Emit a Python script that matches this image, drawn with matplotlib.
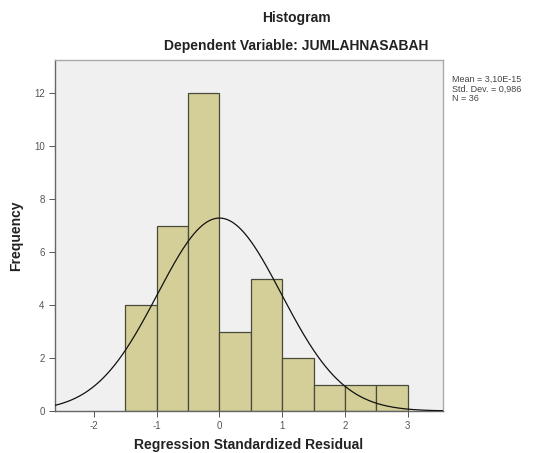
import numpy as np
import matplotlib
matplotlib.use("Agg")
import matplotlib.pyplot as plt

bin_edges = [-1.5, -1.0, -0.5, 0.0, 0.5, 1.0, 1.5, 2.0, 2.5, 3.0]
counts = [4, 7, 12, 3, 5, 2, 1, 1, 1]
mean = 3.10e-15
std = 0.986
n = 36
x_ticks = [-2, -1, 0, 1, 2, 3]
y_ticks = [0, 2, 4, 6, 8, 10, 12]

plt.rcParams['font.family'] = ['Liberation Sans', 'DejaVu Sans']

fig = plt.figure(figsize=(5.34, 4.53), dpi=100)
ax = fig.add_axes([55/534, 42/453, (443-55)/534, (411-60)/453])
ax.set_facecolor('#f0f0f0')

lefts = np.array(bin_edges[:-1])
widths = np.diff(bin_edges)
ax.bar(lefts, counts, width=widths, align='edge', color='#d4cf98',
       edgecolor='#4a4a3a', linewidth=0.9, zorder=2)

xs = np.linspace(-2.65, 3.56, 400)
bw = widths[0]
ys = n * bw / (std * np.sqrt(2 * np.pi)) * np.exp(-0.5 * ((xs - mean) / std) ** 2)
ax.plot(xs, ys, color='#111111', linewidth=0.9, zorder=3)

ax.set_xlim(-2.62, 3.56)
ax.set_ylim(0, 13.25)
ax.set_xticks(x_ticks)
ax.set_xticklabels([str(t) for t in x_ticks])
ax.set_yticks(y_ticks)
ax.set_yticklabels([str(t) for t in y_ticks])
ax.tick_params(axis='both', labelsize=7, colors='#555555', length=4, width=0.7,
               direction='out', labelcolor='#555555')

for side in ['left', 'bottom']:
    ax.spines[side].set_color('#666666')
    ax.spines[side].set_linewidth(1.0)
for side in ['top', 'right']:
    ax.spines[side].set_color('#aaaaaa')
    ax.spines[side].set_linewidth(1.0)

ax.set_xlabel('Regression Standardized Residual', fontsize=10, fontweight='bold',
              color='#222222', labelpad=5)
ax.set_ylabel('Frequency', fontsize=10, fontweight='bold', color='#222222', labelpad=8)

fig.text(296/534, 1 - 18/453, 'Histogram', ha='center', va='center',
         fontsize=10, fontweight='bold', color='#222222')
fig.text(296/534, 1 - 46/453, 'Dependent Variable: JUMLAHNASABAH', ha='center',
         va='center', fontsize=10, fontweight='bold', color='#222222')

fig.text(452/534, 1 - 75/453, 'Mean = 3,10E-15\nStd. Dev. = 0,986\nN = 36',
         ha='left', va='top', fontsize=6.5, color='#444444', linespacing=1.05)

fig.savefig('out.png', dpi=100, facecolor='white')
